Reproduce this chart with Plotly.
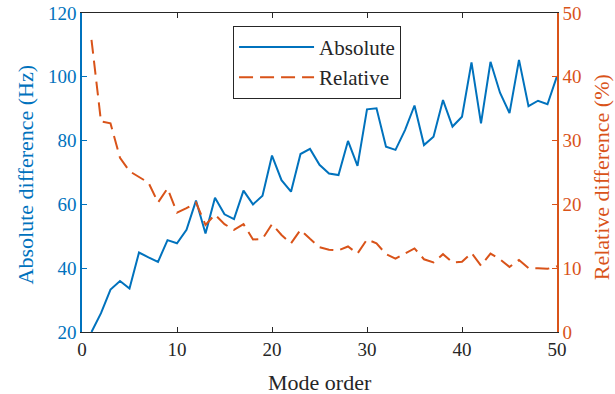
import plotly.graph_objects as go

mode_order = list(range(1, 51))
abs_diff = [20.0, 25.9, 33.3, 36.0, 33.6, 44.9, 43.4, 42.0, 48.8, 47.8,
            52.0, 61.2, 50.9, 62.1, 56.9, 55.4, 64.3, 60.0, 62.7, 75.3,
            67.6, 64.0, 75.8, 77.4, 72.4, 69.7, 69.2, 79.9, 72.1, 89.8,
            90.1, 78.1, 77.1, 83.3, 91.0, 78.6, 81.2, 92.7, 84.4, 87.5,
            104.5, 85.4, 104.7, 95.0, 88.6, 105.3, 90.8, 92.5, 91.4, 100.2]
rel_diff = [45.8, 33.0, 32.7, 27.3, 25.2, 24.3, 23.4, 20.3, 22.5, 18.7,
            19.4, 20.3, 16.8, 18.4, 16.9, 16.0, 16.9, 14.5, 14.6, 16.9,
            15.2, 13.9, 16.0, 14.6, 13.3, 12.9, 12.8, 13.4, 12.3, 14.5,
            13.9, 12.2, 11.5, 12.3, 13.1, 11.4, 10.9, 12.2, 10.9, 11.0,
            12.4, 10.4, 12.3, 11.4, 10.2, 11.3, 10.0, 10.0, 9.9, 10.3]

x_ticks = [0, 10, 20, 30, 40, 50]
left_ticks = [20, 40, 60, 80, 100, 120]
right_ticks = [0, 10, 20, 30, 40, 50]

x_title = "Mode order"
left_title = "Absolute difference (Hz)"
right_title = "Relative difference (%)"

BLUE = "#0072BD"
ORANGE = "#D95319"
DARK = "#262626"
FONT = "Liberation Serif"

fig = go.Figure()
fig.add_trace(go.Scatter(x=mode_order, y=abs_diff, name="Absolute", mode="lines",
                         line=dict(color=BLUE, width=2), yaxis="y"))
fig.add_trace(go.Scatter(x=mode_order, y=rel_diff, name="Relative", mode="lines",
                         line=dict(color=ORANGE, width=2, dash="14px,7px"), yaxis="y2"))

fig.update_layout(
    width=615, height=394,
    margin=dict(l=82, r=58, t=13, b=62, autoexpand=False),
    paper_bgcolor="white", plot_bgcolor="white",
    font=dict(family=FONT, size=19, color=DARK),
    showlegend=True,
    legend=dict(x=0.318, y=0.96, xanchor="left", yanchor="top",
                bgcolor="white", bordercolor=DARK, borderwidth=1,
                font=dict(family=FONT, size=21, color=DARK),
                itemwidth=75, tracegroupgap=0),
    xaxis=dict(range=[0, 50], tickvals=x_ticks, ticks="inside", ticklen=5,
               tickcolor=DARK, showline=True, linecolor=DARK, linewidth=1,
               mirror="ticks", showgrid=False, zeroline=False, automargin=False,
               tickfont=dict(family=FONT, size=19, color=DARK)),
    yaxis=dict(range=[20, 120], tickvals=left_ticks, ticks="inside", ticklen=5,
               tickcolor=BLUE, showline=True, linecolor=BLUE, linewidth=1.5,
               showgrid=False, zeroline=False, automargin=False,
               tickfont=dict(family=FONT, size=19, color=BLUE)),
    yaxis2=dict(range=[0, 50], tickvals=right_ticks, ticks="inside", ticklen=5,
                tickcolor=ORANGE, showline=True, linecolor=ORANGE, linewidth=1.5,
                overlaying="y", side="right", showgrid=False, zeroline=False,
                automargin=False,
                tickfont=dict(family=FONT, size=19, color=ORANGE)),
    annotations=[
        dict(text=x_title, xref="paper", yref="paper", x=0.5, y=-0.157,
             xanchor="center", yanchor="middle", showarrow=False,
             font=dict(family=FONT, size=22, color=DARK)),
        dict(text=left_title, xref="paper", yref="paper", x=-0.120, y=0.494,
             xanchor="center", yanchor="middle", showarrow=False, textangle=-90,
             font=dict(family=FONT, size=22, color=BLUE)),
        dict(text=right_title, xref="paper", yref="paper", x=1.094, y=0.484,
             xanchor="center", yanchor="middle", showarrow=False, textangle=-90,
             font=dict(family=FONT, size=22, color=ORANGE)),
    ],
)

fig.write_html("out.html")
